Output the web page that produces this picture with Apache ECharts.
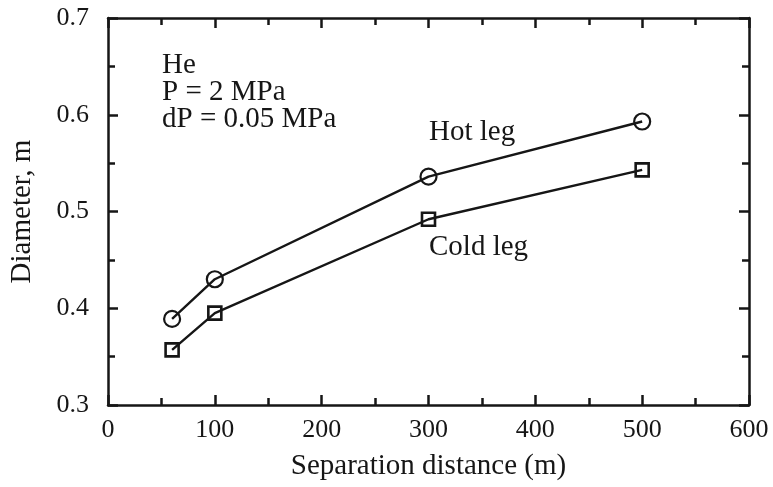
<!DOCTYPE html>
<html>
<head>
<meta charset="utf-8">
<script src="https://cdn.jsdelivr.net/npm/echarts@6/dist/echarts.min.js"></script>
<style>html,body{margin:0;padding:0;background:#fff;}#c{width:773px;height:487px;}</style>
</head>
<body>
<div id="c"></div>
<script>
var distances = [60, 100, 300, 500];
var hotLeg = [0.389, 0.430, 0.536, 0.593];
var coldLeg = [0.357, 0.395, 0.492, 0.543];
var xTicks = [0, 100, 200, 300, 400, 500, 600];
var yTicks = [0.3, 0.4, 0.5, 0.6, 0.7];
var seriesNames = ['Hot leg', 'Cold leg'];
var noteLines = ['He', 'P = 2 MPa', 'dP = 0.05 MPa'];

var FONT = '"Liberation Serif", "Times New Roman", serif';
var INK = '#161616';

function pairs(xs, ys) { return xs.map(function (x, i) { return [x, ys[i]]; }); }

function axisBase(extra) {
  var a = {
    type: 'value',
    axisLine: { show: true, onZero: false, lineStyle: { color: INK, width: 2.5 } },
    axisTick: { show: true, inside: true, length: 10, lineStyle: { color: INK, width: 2.5 } },
    minorTick: { show: true, splitNumber: 2, length: 7, lineStyle: { color: INK, width: 2.5 } },
    splitLine: { show: false },
    minorSplitLine: { show: false }
  };
  for (var k in extra) a[k] = extra[k];
  return a;
}

var chart = echarts.init(document.getElementById('c'), null, { renderer: 'canvas' });
chart.setOption({
  animation: false,
  backgroundColor: '#fff',
  grid: { left: 107, right: 24, top: 18, bottom: 82 },
  xAxis: [
    axisBase({
      position: 'bottom',
      min: xTicks[0], max: xTicks[xTicks.length - 1], interval: xTicks[1] - xTicks[0],
      name: 'Separation distance (m)', nameLocation: 'middle', nameGap: 47,
      nameTextStyle: { fontFamily: FONT, fontSize: 29, color: INK },
      axisLabel: { show: true, margin: 12, fontFamily: FONT, fontSize: 26, color: INK }
    }),
    axisBase({
      position: 'top',
      min: xTicks[0], max: xTicks[xTicks.length - 1], interval: xTicks[1] - xTicks[0],
      axisLabel: { show: false }
    })
  ],
  yAxis: [
    axisBase({
      position: 'left',
      min: yTicks[0], max: yTicks[yTicks.length - 1], interval: 0.1,
      name: 'Diameter, m', nameLocation: 'middle', nameGap: 71, nameRotate: 90,
      nameTextStyle: { fontFamily: FONT, fontSize: 29, color: INK },
      axisLabel: { show: true, margin: 19, fontFamily: FONT, fontSize: 26, color: INK,
        formatter: function (v) { return v.toFixed(1); } }
    }),
    axisBase({
      position: 'right',
      min: yTicks[0], max: yTicks[yTicks.length - 1], interval: 0.1,
      axisLabel: { show: false }
    })
  ],
  series: [
    {
      name: seriesNames[0], type: 'line', data: pairs(distances, hotLeg),
      symbol: 'circle', symbolSize: 16, showAllSymbol: true,
      lineStyle: { color: INK, width: 2.4 },
      itemStyle: { color: 'rgba(255,255,255,0)', borderColor: INK, borderWidth: 2.2 },
      emphasis: { disabled: true }, z: 3
    },
    {
      name: seriesNames[1], type: 'line', data: pairs(distances, coldLeg),
      symbol: 'rect', symbolSize: 13, showAllSymbol: true,
      lineStyle: { color: INK, width: 2.4 },
      itemStyle: { color: 'rgba(255,255,255,0)', borderColor: INK, borderWidth: 2.6 },
      emphasis: { disabled: true }, z: 3
    }
  ],
  graphic: [
    { type: 'text', left: 162, top: 51, style: { text: noteLines.join('\n'), fontFamily: FONT, fontSize: 29, lineHeight: 27, fill: INK } },
    { type: 'text', left: 429, top: 118, style: { text: seriesNames[0], fontFamily: FONT, fontSize: 29, fill: INK } },
    { type: 'text', left: 429, top: 233, style: { text: seriesNames[1], fontFamily: FONT, fontSize: 29, fill: INK } }
  ]
});
</script>
</body>
</html>
